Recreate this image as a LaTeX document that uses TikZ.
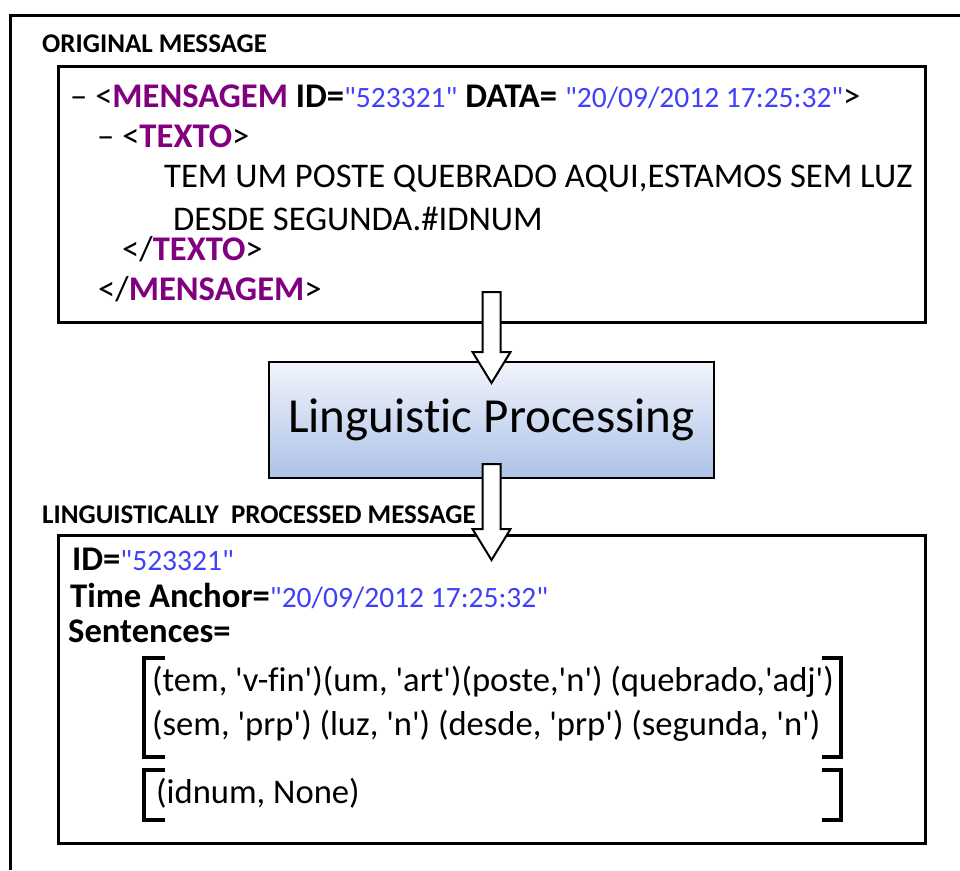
\documentclass[tikz,border=0pt]{standalone}
\usepackage{fontspec}
\setmainfont{Carlito}[Ligatures=NoCommon]
\usetikzlibrary{positioning, calc}

\definecolor{tagpurple}{RGB}{128,0,128}
\definecolor{valblue}{RGB}{64,64,250}
\definecolor{procTop}{RGB}{241,244,251}
\definecolor{procBottom}{RGB}{172,194,231}

\newcommand\xmltag[1]{\textcolor{tagpurple}{\textbf{#1}}}
\newcommand\xmlval[1]{{\fontsize{29.5}{35}\selectfont\textcolor{valblue}{\textquotedbl#1\textquotedbl}}}
\newcommand\ap{\textquotesingle}

\tikzset{
  msgbox/.style={rectangle, draw=black, line width=3pt, minimum width=867pt, inner sep=0pt, outer sep=0pt},
  procbox/.style={rectangle, draw=black, line width=2.5pt, outer sep=0pt, minimum width=445pt, minimum height=116pt, top color=procTop, bottom color=procBottom, font=\fontsize{49}{56}\selectfont},
  heading/.style={anchor=base west, inner sep=0pt, font=\fontsize{27}{30}\selectfont\bfseries},
  xml/.style={anchor=base west, inner sep=0pt, font=\fontsize{34.6}{40}\selectfont},
  hollow/.style={draw=black, line width=2pt, fill=white, line join=miter},
  brk/.style={line width=4pt}
}

% vertical block arrow, open shaft from #1 to the tip #2
\newcommand\hollowarrow[2]{%
  \draw[hollow] ($(#1)+(-9,0)$) -- ($(#2)+(-9,-31)$) -- ($(#2)+(-19,-31)$) -- (#2)
    -- ($(#2)+(19,-31)$) -- ($(#2)+(9,-31)$) -- ($(#1)+(9,0)$) -- cycle;}

\begin{document}
\begin{tikzpicture}[x=1pt, y=-1pt]
  \useasboundingbox[fill=white] (0,0) rectangle (960,870);
  \draw[line width=3pt] (10,870) -- (10,15) -- (960,15);

  % boxes
  \node (orig) [msgbox, minimum height=256pt, anchor=north west] at (58,66) {};
  \node (proc) [procbox, below=40pt of orig] {Linguistic Processing};
  \node (lpm) [msgbox, minimum height=308pt, below=57pt of proc] {};

  \node (origlbl) [heading] at (42,52) {ORIGINAL MESSAGE};
  \node (lpmlbl) [heading] at (42,523) {LINGUISTICALLY\ \ PROCESSED MESSAGE};

  % the raw xml message
  \node (x1) [xml] at (70,107) {– <\xmltag{MENSAGEM} \textbf{ID=}\xmlval{523321} \textbf{DATA=} \xmlval{20/09/2012 17:25:32}>};
  \node (x2) [xml] at (97,147) {– <\xmltag{TEXTO}>};
  \node (x3) [xml] at (164,187) {TEM UM POSTE QUEBRADO AQUI,ESTAMOS SEM LUZ};
  \node (x4) [xml] at (173,230) {DESDE SEGUNDA.\#IDNUM};
  \node (x5) [xml] at (122,260) {</\xmltag{TEXTO}>};
  \node (x6) [xml] at (98,300) {</\xmltag{MENSAGEM}>};

  % processed fields
  \node (pid) [xml] at (72,570) {\textbf{ID=}\xmlval{523321}};
  \node (ptime) [xml] at (70,607) {\textbf{Time Anchor=}\xmlval{20/09/2012 17:25:32}};
  \node (psent) [xml] at (68,642) {\textbf{Sentences=}};
  \node (s1) [xml] at (152,691) {(tem, \ap v-fin\ap)(um, \ap art\ap)(poste,\ap n\ap) (quebrado,\ap adj\ap)};
  \node (s2) [xml] at (152,735) {(sem, \ap prp\ap) (luz, \ap n\ap) (desde, \ap prp\ap) (segunda, \ap n\ap)};
  \node (s3) [xml] at (156,803) {(idnum, None)};

  % brackets round the sentences
  \draw[brk] (165,658) -| (144,757) -- (165,757);
  \draw[brk] (822,658) -| (841,757) -- (822,757);
  \draw[brk] (165,770) -| (144,820) -- (165,820);
  \draw[brk] (822,770) -| (841,820) -- (822,820);

  % arrows
  \coordinate (a1s) at ($(orig.south)+(0,-30)$);
  \coordinate (a1e) at ($(a1s |- proc.north)+(0,21)$);
  \coordinate (a2s) at ($(proc.south)+(0,-14)$);
  \coordinate (a2e) at ($(a2s |- lpm.north)+(0,25)$);
  \hollowarrow{a1s}{a1e}
  \hollowarrow{a2s}{a2e}
\end{tikzpicture}
\end{document}
